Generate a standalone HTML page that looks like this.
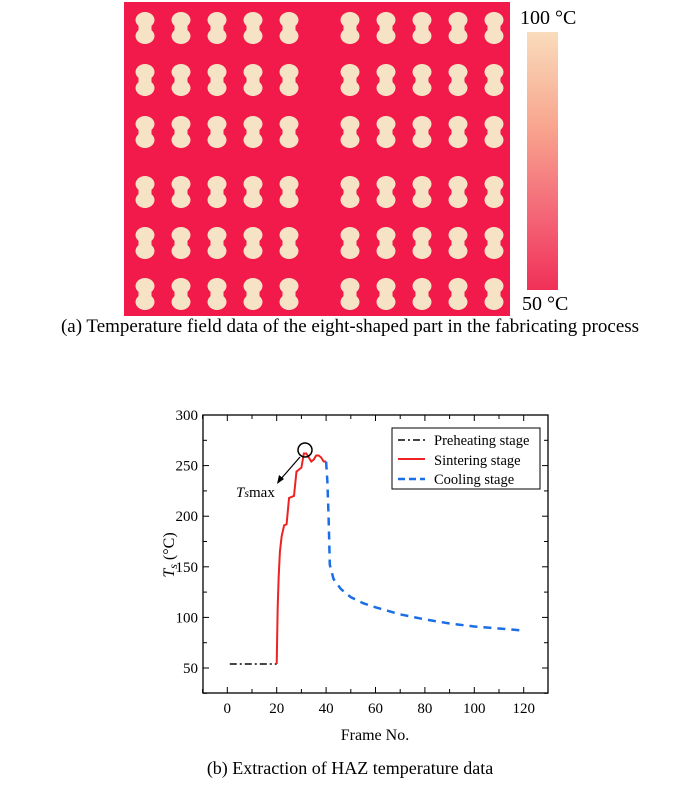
<!DOCTYPE html><html><head><style>
body{margin:0;background:#fff;width:700px;height:785px;overflow:hidden;font-family:"Liberation Serif",serif}
</style></head><body>
<svg id="s" width="700" height="785" xmlns="http://www.w3.org/2000/svg" font-family="Liberation Serif, serif">
<defs>
<linearGradient id="cb" x1="0" y1="0" x2="0" y2="1">
<stop offset="0" stop-color="#f9dcbc"/><stop offset="0.35" stop-color="#f8a890"/><stop offset="0.7" stop-color="#f46878"/><stop offset="1" stop-color="#f03058"/></linearGradient>
<g id="pn" fill="#f6e2c4"><ellipse cx="0" cy="-8" rx="9.5" ry="8"/><ellipse cx="0" cy="8" rx="9.5" ry="8"/><rect x="-6.5" y="-8" width="13" height="16"/></g>
</defs>
<rect x="124" y="2" width="386" height="314" fill="#f2194b"/>
<g id="shapes"></g>
<rect x="527" y="32" width="31" height="258" fill="url(#cb)"/>
<text x="520" y="24" font-size="20">100 °C</text>
<text x="522" y="310" font-size="20">50 °C</text>
<text x="350" y="332" font-size="19" text-anchor="middle">(a) Temperature field data of the eight-shaped part in the fabricating process</text>
<rect x="203" y="415" width="345" height="278" fill="none" stroke="#000" stroke-width="1.3"/>
<g id="ax" font-size="15"></g>
<g id="data" fill="none"></g>
<rect x="392" y="428" width="148" height="61" fill="#fff" stroke="#000" stroke-width="1"/>
<line x1="398" y1="440" x2="425" y2="440" stroke="#444" stroke-width="2" stroke-dasharray="7,3,2,3"/>
<line x1="398" y1="459" x2="425" y2="459" stroke="#ee2222" stroke-width="2"/>
<line x1="398" y1="479" x2="425" y2="479" stroke="#1a6fe6" stroke-width="2.5" stroke-dasharray="7,4"/>
<text x="434" y="445" font-size="14.5">Preheating stage</text>
<text x="434" y="465" font-size="14.5">Sintering stage</text>
<text x="434" y="484" font-size="14.5">Cooling stage</text>
<ellipse cx="305" cy="450" rx="7" ry="7" fill="none" stroke="#000" stroke-width="1.5"/>
<line x1="300" y1="457" x2="280" y2="480" stroke="#000" stroke-width="1.2"/>
<path d="M277,484 L279,475 L284,479Z" fill="#000"/>
<text x="236" y="497" font-size="15"><tspan font-style="italic">T</tspan><tspan font-size="12" font-style="italic">s</tspan>max</text>
<text transform="translate(174,555) rotate(-90)" font-size="16" text-anchor="middle"><tspan font-style="italic">T</tspan><tspan font-size="12" font-style="italic" dy="3">s</tspan><tspan dy="-3"> (°C)</tspan></text>
<text x="375" y="740" font-size="16" text-anchor="middle">Frame No.</text>
<text x="350" y="774" font-size="18" text-anchor="middle">(b) Extraction of HAZ temperature data</text>
</svg>
<script>
var NS="http://www.w3.org/2000/svg";
function el(p,t,a,txt){var e=document.createElementNS(NS,t);for(var k in a)e.setAttribute(k,a[k]);if(txt!=null)e.textContent=txt;p.appendChild(e);return e;}
var sh=document.getElementById('shapes');
var cols=[145,181,217,253,289,350,386,422,458,494],rows=[28,80,132,192,243,294];
rows.forEach(function(r){cols.forEach(function(c){el(sh,'use',{href:'#pn',x:c,y:r});});});
var X=function(x){return 227.3+2.47*x},Y=function(v){return 668-(v-50)*1.012};
var ax=document.getElementById('ax');
for(var v=25;v<=300;v+=25){var y=Y(v);el(ax,'line',{x1:203,y1:y,x2:v%50?207:209,y2:y,stroke:'#000'});el(ax,'line',{x1:548,y1:y,x2:v%50?544:542,y2:y,stroke:'#000'});if(v%50==0)el(ax,'text',{x:198,y:y+5,'text-anchor':'end'},v);}
for(var x=-10;x<=125;x+=10){var px=X(x);el(ax,'line',{x1:px,y1:693,x2:px,y2:x%20?689:687,stroke:'#000'});el(ax,'line',{x1:px,y1:415,x2:px,y2:x%20?419:421,stroke:'#000'});if(x%20==0&&x>=0)el(ax,'text',{x:px,y:713,'text-anchor':'middle'},x);}
function pl(d,a){a.points=d.map(function(p){return X(p[0])+','+Y(p[1])}).join(' ');el(document.getElementById('data'),'polyline',a);}
pl([[1,54],[20,54]],{stroke:'#444','stroke-width':2,'stroke-dasharray':'7,3,2,3'});
pl([[20,54],[20.4,110],[20.8,140],[21.3,165],[22,180],[23,191],[24,192],[25,218],[26,219],[27,220],[28,244],[29,246],[30,248],[31,262],[32,262],[33,258],[34,254],[35,256],[36,260],[37,260],[38,258],[39,254],[40,254]],{stroke:'#ee2222','stroke-width':2});
pl([[40,254],[40.5,235],[41,200],[41.5,152],[43,138],[46,128],[50,120],[55,114],[60,110],[70,103],[80,98],[90,94],[100,91],[110,89],[120,87]],{stroke:'#1a6fe6','stroke-width':2.5,'stroke-dasharray':'8,6'});
</script>
</body></html>
